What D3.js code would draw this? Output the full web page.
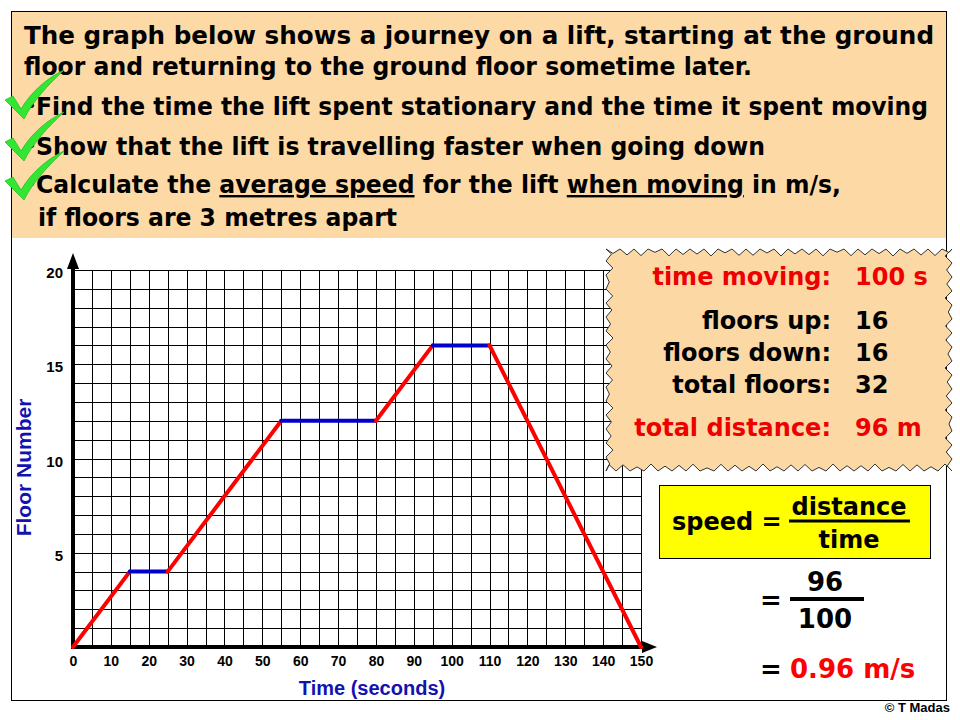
<!DOCTYPE html>
<html>
<head>
<meta charset="utf-8">
<script src="https://cdn.jsdelivr.net/npm/d3@7"></script>
<style>
  body { margin: 0; background: #fff; }
  svg { display: block; }
</style>
</head>
<body>
<script>
// journey of the lift: time (s) and floor at each turning point
const times = [0, 15, 25, 55, 80, 95, 110, 150]
const floors = [0, 4, 4, 12, 12, 16, 16, 0]
const xTicks = d3.range(0, 151, 10)
const yTicks = [5, 10, 15, 20]
const xGrid = d3.range(0, 151, 5)
const yGrid = d3.range(0, 21, 1)

const summaryLabels = ['time moving:', 'floors up:', 'floors down:', 'total floors:', 'total distance:']
const summaryValues = ['100 s', '16', '16', '32', '96 m']

const width = 960
const height = 720

const svg = d3.select('body').append('svg')
    .attr('width', width)
    .attr('height', height)

// outer frame
svg.append('rect')
    .attr('x', 11.5).attr('y', 11.5)
    .attr('width', 935).attr('height', 689)
    .style('fill', '#fff')
    .style('stroke', '#000')
    .style('stroke-width', 1)

// question box
svg.append('rect')
    .attr('x', 12).attr('y', 12)
    .attr('width', 934).attr('height', 226)
    .style('fill', '#fdd9a6')

const bold = 'font-family: "DejaVu Sans", Verdana, sans-serif; font-weight: bold;'
const qLines = [
    { x: 24, y: 44, len: 910, parts: [['The graph below shows a journey on a lift, starting at the ground']] },
    { x: 24, y: 75, len: 728, parts: [['floor and returning to the ground floor sometime later.']] },
    { x: 36, y: 115, len: 892, bullet: true, parts: [['Find the time the lift spent stationary and the time it spent moving']] },
    { x: 36, y: 155, len: 729, bullet: true, parts: [['Show that the lift is travelling faster when going down']] },
    { x: 36, y: 193, len: 805, bullet: true, parts: [['Calculate the '], ['average speed', true], [' for the lift '], ['when moving', true], [' in m/s,']] },
    { x: 38, y: 226, len: 359, parts: [['if floors are 3 metres apart']] }
]

qLines.forEach(l => {
    const t = svg.append('text')
        .attr('x', l.x).attr('y', l.y)
        .attr('textLength', l.len)
        .attr('lengthAdjust', 'spacingAndGlyphs')
        .attr('style', bold + 'font-size: 24px; fill: #000;')
        .style('white-space', 'pre')
    l.parts.forEach(p => {
        t.append('tspan')
            .text(p[0])
            .style('text-decoration', p[1] ? 'underline' : 'none')
    })
    if (l.bullet) {
        svg.append('text')
            .attr('x', 27).attr('y', l.y - 4)
            .attr('style', bold + 'font-size: 14px; fill: #000;')
            .text('•')
    }
})

// tick marks
const checkY = [118, 160, 199]
svg.selectAll('.check')
    .data(checkY)
    .enter().append('path')
    .attr('class', 'check')
    .attr('transform', d => `translate(21, ${d})`)
    .attr('d', 'M-16,-18 L-8,-22 L0,-9 C10,-26 26,-40 43,-48 C27,-33 12,-17 3,1 Z')
    .style('fill', '#33e633')
    .style('stroke', '#22c022')
    .style('stroke-width', 0.8)

// chart
const x = d3.scaleLinear().domain([0, 150]).range([73, 641])
const y = d3.scaleLinear().domain([0, 20]).range([647, 270])

const grid = svg.append('g').attr('class', 'grid')
grid.selectAll('.vline')
    .data(xGrid)
    .enter().append('line')
    .attr('x1', d => Math.round(x(d)) + 0.5).attr('x2', d => Math.round(x(d)) + 0.5)
    .attr('y1', y(0)).attr('y2', y(20))
    .style('stroke', '#000').style('stroke-width', 1)
grid.selectAll('.hline')
    .data(yGrid)
    .enter().append('line')
    .attr('y1', d => Math.round(y(d)) + 0.5).attr('y2', d => Math.round(y(d)) + 0.5)
    .attr('x1', x(0)).attr('x2', x(150))
    .style('stroke', '#000').style('stroke-width', 1)

// axes with arrows
svg.append('path')
    .attr('d', `M${x(0)},${y(0)} V${y(20) - 2}`)
    .style('stroke', '#000').style('stroke-width', 4)
svg.append('path')
    .attr('d', `M${x(0) - 6},${y(20) - 1} L${x(0)},${y(20) - 17} L${x(0) + 6},${y(20) - 1} Z`)
    .style('fill', '#000')
svg.append('path')
    .attr('d', `M${x(0) - 2},${y(0)} H${x(150) + 2}`)
    .style('stroke', '#000').style('stroke-width', 4)
svg.append('path')
    .attr('d', `M${x(150) + 1},${y(0) - 6} L${x(150) + 16},${y(0)} L${x(150) + 1},${y(0) + 6} Z`)
    .style('fill', '#000')

const xAxis = svg.append('g')
    .attr('transform', `translate(0, ${y(0)})`)
    .call(d3.axisBottom(x).tickValues(xTicks).tickSize(0).tickPadding(9).tickFormat(d3.format('d')))
xAxis.select('.domain').remove()
xAxis.selectAll('text')
    .style('font-family', '"Liberation Sans", Arial, sans-serif')
    .style('font-weight', 'bold')
    .style('font-size', '14px')
    .style('fill', '#000')

const yAxis = svg.append('g')
    .attr('transform', `translate(${x(0)}, 0)`)
    .call(d3.axisLeft(y).tickValues(yTicks).tickSize(0).tickPadding(10).tickFormat(d3.format('d')))
yAxis.select('.domain').remove()
yAxis.selectAll('text')
    .attr('dy', '0.5em')
    .style('font-family', '"Liberation Sans", Arial, sans-serif')
    .style('font-weight', 'bold')
    .style('font-size', '15px')
    .style('fill', '#000')

svg.append('text')
    .attr('transform', `translate(31, ${(y(0) + y(20)) / 2 + 9}) rotate(-90)`)
    .style('text-anchor', 'middle')
    .style('font-family', '"Liberation Sans", Arial, sans-serif')
    .style('font-weight', 'bold')
    .style('font-size', '21px')
    .style('fill', '#1212b0')
    .text('Floor Number')

svg.append('text')
    .attr('x', 372).attr('y', 695)
    .style('text-anchor', 'middle')
    .style('font-family', '"Liberation Sans", Arial, sans-serif')
    .style('font-weight', 'bold')
    .style('font-size', '20px')
    .style('fill', '#1212b0')
    .text('Time (seconds)')

// journey segments: blue when stationary, red when moving
const segments = d3.range(times.length - 1).map(i => ({
    t0: times[i], f0: floors[i], t1: times[i + 1], f1: floors[i + 1]
}))
svg.selectAll('.seg')
    .data(segments)
    .enter().append('line')
    .attr('class', 'seg')
    .attr('x1', d => x(d.t0)).attr('y1', d => y(d.f0))
    .attr('x2', d => x(d.t1)).attr('y2', d => y(d.f1))
    .style('stroke', d => d.f0 === d.f1 ? '#0000cc' : '#ff0000')
    .style('stroke-width', 4)
    .style('stroke-linecap', 'round')

// jagged summary box
function jaggedPath(x0, y0, x1, y1) {
    const pts = []
    let k = 0
    const depth = () => 3 + 4 * Math.abs(Math.sin(k * 2.17 + 0.6))
    for (let px = x0; px < x1; px += 7, k++) pts.push([px, k % 2 ? y0 + depth() : y0])
    for (let py = y0; py < y1; py += 7, k++) pts.push([k % 2 ? x1 - depth() : x1, py])
    for (let px = x1; px > x0; px -= 7, k++) pts.push([px, k % 2 ? y1 - depth() : y1])
    for (let py = y1; py > y0; py -= 7, k++) pts.push([k % 2 ? x0 + depth() : x0, py])
    return 'M' + pts.map(p => p.join(',')).join('L') + 'Z'
}
svg.append('path')
    .attr('d', jaggedPath(606, 249, 952, 471))
    .style('fill', '#fcd8a4')
    .style('stroke', '#333')
    .style('stroke-width', 1)

const summaryY = [285, 329, 361, 393, 436]
const summaryColor = ['#ee0000', '#000', '#000', '#000', '#ee0000']
summaryLabels.forEach((s, i) => {
    svg.append('text')
        .attr('x', 831).attr('y', summaryY[i])
        .attr('style', bold + 'font-size: 24px;')
        .style('text-anchor', 'end')
        .style('fill', summaryColor[i])
        .text(s)
    svg.append('text')
        .attr('x', 855).attr('y', summaryY[i])
        .attr('style', bold + 'font-size: 24px;')
        .style('fill', summaryColor[i])
        .text(summaryValues[i])
})

// speed formula
svg.append('rect')
    .attr('x', 659.5).attr('y', 485.5)
    .attr('width', 271).attr('height', 73)
    .style('fill', '#ffff00')
    .style('stroke', '#000')
    .style('stroke-width', 1)
svg.append('text')
    .attr('x', 672).attr('y', 530)
    .attr('style', bold + 'font-size: 24px; fill: #000;')
    .text('speed =')
svg.append('text')
    .attr('x', 849).attr('y', 515)
    .attr('style', bold + 'font-size: 24px; fill: #000;')
    .style('text-anchor', 'middle')
    .text('distance')
svg.append('line')
    .attr('x1', 789).attr('x2', 910).attr('y1', 521).attr('y2', 521)
    .style('stroke', '#000').style('stroke-width', 3)
svg.append('text')
    .attr('x', 849).attr('y', 548)
    .attr('style', bold + 'font-size: 24px; fill: #000;')
    .style('text-anchor', 'middle')
    .text('time')

svg.append('text')
    .attr('x', 760).attr('y', 609)
    .attr('style', bold + 'font-size: 26px; fill: #000;')
    .text('=')
svg.append('text')
    .attr('x', 825).attr('y', 591)
    .attr('style', bold + 'font-size: 26px; fill: #000;')
    .style('text-anchor', 'middle')
    .text('96')
svg.append('line')
    .attr('x1', 790).attr('x2', 864).attr('y1', 599).attr('y2', 599)
    .style('stroke', '#000').style('stroke-width', 4)
svg.append('text')
    .attr('x', 825).attr('y', 628)
    .attr('style', bold + 'font-size: 26px; fill: #000;')
    .style('text-anchor', 'middle')
    .text('100')

svg.append('text')
    .attr('x', 760).attr('y', 678)
    .attr('style', bold + 'font-size: 26px; fill: #000;')
    .text('=')
svg.append('text')
    .attr('x', 790).attr('y', 678)
    .attr('style', bold + 'font-size: 26px;')
    .style('fill', '#ff0000')
    .text('0.96 m/s')

svg.append('text')
    .attr('x', 950).attr('y', 712)
    .style('text-anchor', 'end')
    .style('font-family', '"Liberation Sans", Arial, sans-serif')
    .style('font-weight', 'bold')
    .style('font-size', '13px')
    .style('fill', '#000')
    .text('© T Madas')
</script>
</body>
</html>
